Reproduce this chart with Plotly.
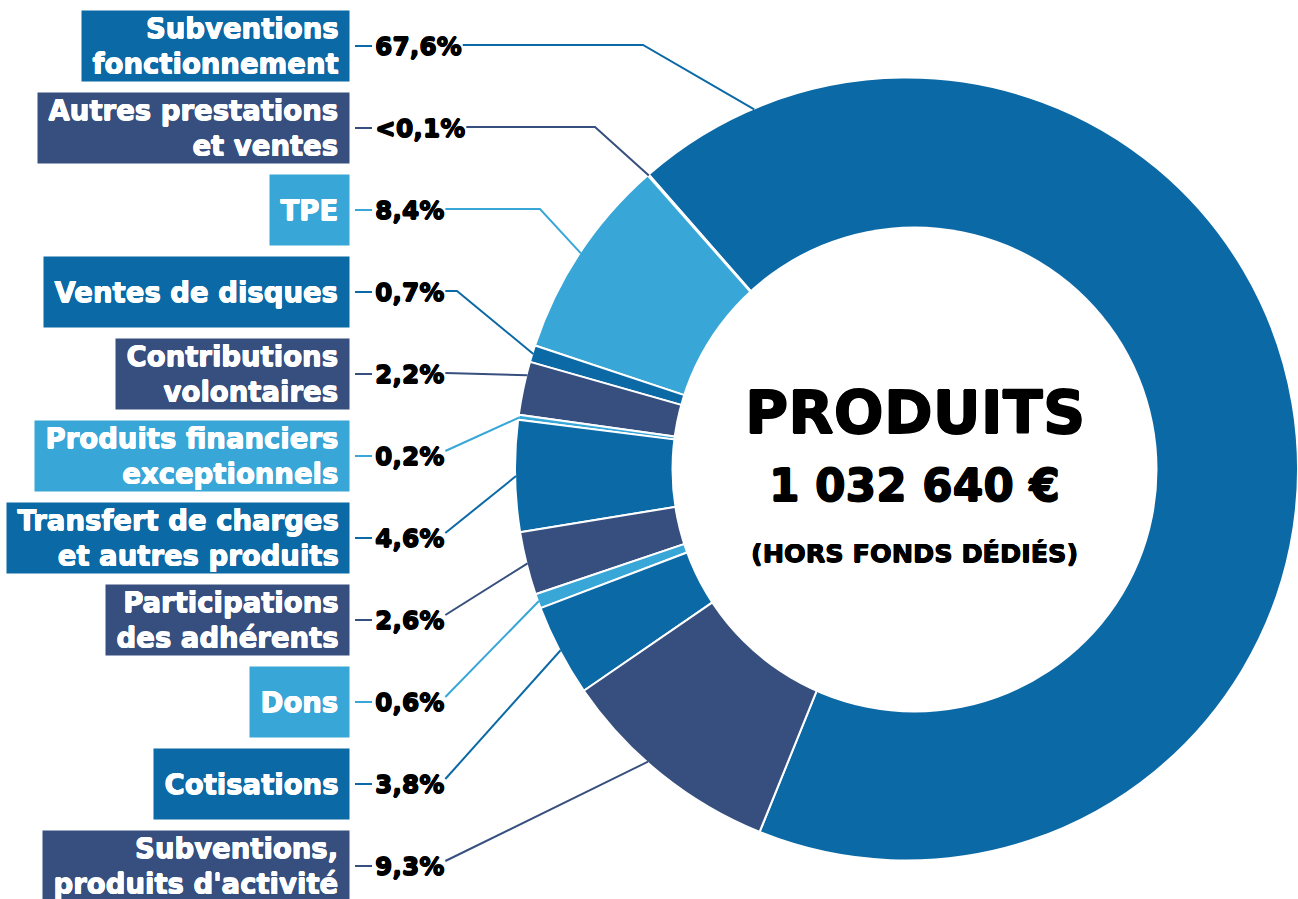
import math
import plotly.graph_objects as go

# ---- data -------------------------------------------------------------
CATEGORIES = [
    "Subventions<br>fonctionnement",
    "Autres prestations<br>et ventes",
    "TPE",
    "Ventes de disques",
    "Contributions<br>volontaires",
    "Produits financiers<br>exceptionnels",
    "Transfert de charges<br>et autres produits",
    "Participations<br>des adhérents",
    "Dons",
    "Cotisations",
    "Subventions,<br>produits d'activité",
]
SHARES = [67.6, 0.05, 8.4, 0.7, 2.2, 0.2, 4.6, 2.6, 0.6, 3.8, 9.3]

TITLE = "PRODUITS"
TOTAL = "1 032 640 €"
SUBTITLE = "(HORS FONDS DÉDIÉS)"

# ---- style ------------------------------------------------------------
DARK, NAVY, LIGHT = "#0b69a6", "#374f7e", "#38a7d8"
COLORS = [DARK, NAVY, LIGHT, DARK, NAVY, LIGHT, DARK, NAVY, LIGHT, DARK, NAVY]

W, H = 1298, 899
FONT = "DejaVu Sans"


def heavy(color, d=0.6):
    """text-shadow that thickens glyph strokes a little"""
    return (f"{d}px 0 0 {color}, -{d}px 0 0 {color}, "
            f"0 {d}px 0 {color}, 0 -{d}px 0 {color}")


# donut geometry (pixels, y measured from the top)
CX, CY, R = 906.5, 469.0, 391.5
HOLE = 0.58
# white centre disc, set slightly right of the ring centre
DISC_X, DISC_Y, DISC_R = 914.5, 469.5, 243.0
START_ANGLE = -41.2          # first slice boundary, degrees clockwise from 12 o'clock

# label column
BOX_RIGHT = 350
BOX_FONT = 27.5
ROW_TOP, ROW_STEP = 46, 82
DASH_X0, DASH_X1 = 355, 372
PCT_X = 373
PCT_SIZE = 25

# where along each slice the leader touches (0 = upper boundary, 1 = lower)
ANCHOR_FRAC = [0.075, 0.5, 0.5, 0.5, 0.25, 0.5, 0.5, 0.5, 0.5, 0.5, 0.42]
# horizontal run before the leader bends (None = straight to the slice)
ELBOW_X = [643, 595, 540, 457, None, None, None, None, None, None, None]


def px(x, y):
    return x / W, 1 - y / H


def pct_text(v):
    if v < 0.1:
        return "<0,1%"
    return f"{v:.1f}".replace(".", ",") + "%"


# rough advance widths (em) of DejaVu Sans Bold for the percentage strings
ADV = {"0": 0.696, "1": 0.696, "2": 0.696, "3": 0.696, "4": 0.696, "5": 0.696,
       "6": 0.696, "7": 0.696, "8": 0.696, "9": 0.696, ",": 0.38, "%": 1.002, "<": 0.838}


def text_width(s, size):
    return sum(ADV.get(c, 0.7) for c in s) * size


# ---- slice angles -----------------------------------------------------
total = sum(SHARES)
spans = [v / total * 360 for v in SHARES]
tip_angles = []
boundary = START_ANGLE
for k, span in enumerate(spans):
    if k == 0:
        tip_angles.append(START_ANGLE + ANCHOR_FRAC[k] * span)
    else:
        tip_angles.append(boundary - ANCHOR_FRAC[k] * span)
        boundary -= span

fig = go.Figure()

fig.add_trace(go.Pie(
    labels=[c.replace("<br>", " ") for c in CATEGORIES],
    values=SHARES,
    sort=False,
    direction="counterclockwise",
    rotation=START_ANGLE,
    hole=HOLE,
    marker=dict(colors=COLORS, line=dict(color="white", width=2)),
    textinfo="none",
    hovertemplate="%{label}<br>%{percent}<extra></extra>",
    showlegend=False,
    domain=dict(
        x=[(CX - R) / W, min(1.0, (CX + R) / W)],
        y=[(H - CY - R) / H, (H - CY + R) / H],
    ),
))

annotations = []
shapes = []

# centre disc
dx0, dy0 = px(DISC_X - DISC_R, DISC_Y + DISC_R)
dx1, dy1 = px(DISC_X + DISC_R, DISC_Y - DISC_R)
shapes.append(dict(type="circle", xref="paper", yref="paper", layer="above",
                   x0=dx0, y0=dy0, x1=dx1, y1=dy1,
                   fillcolor="white", line=dict(width=0)))

for i, (cat, val, col) in enumerate(zip(CATEGORIES, SHARES, COLORS)):
    y = ROW_TOP + i * ROW_STEP
    lines = cat.split("<br>")
    boxed = "<br>".join("\u00a0" + ln + "\u00a0" for ln in lines)

    bx, by = px(BOX_RIGHT, y)
    annotations.append(dict(
        x=bx, y=by, xref="paper", yref="paper",
        xanchor="right", yanchor="middle",
        text=boxed, showarrow=False, align="right", valign="middle",
        height=68, borderpad=1, bgcolor=col,
        font=dict(family=FONT, size=BOX_FONT, color="white", weight="bold",
                  shadow=heavy("white", 0.5)),
    ))

    label = pct_text(val)
    lx, ly = px(PCT_X, y)
    annotations.append(dict(
        x=lx, y=ly, xref="paper", yref="paper",
        xanchor="left", yanchor="middle",
        text=label, showarrow=False,
        font=dict(family=FONT, size=PCT_SIZE, color="black", weight="bold",
                  shadow=heavy("black", 0.6)),
    ))

    # short tick between box and percentage
    x0, y0 = px(DASH_X0, y)
    x1, _ = px(DASH_X1, y)
    shapes.append(dict(type="line", xref="paper", yref="paper",
                       x0=x0, y0=y0, x1=x1, y1=y0,
                       line=dict(color=col, width=2)))

    # leader to the slice
    th = math.radians(tip_angles[i])
    tx = CX + (R - 1) * math.sin(th)
    ty = CY - (R - 1) * math.cos(th)
    sx = PCT_X + text_width(label, PCT_SIZE) + 3
    elbow = ELBOW_X[i]
    if elbow is not None:
        sy = y - 1
        pts = [(sx, sy), (elbow, sy), (tx, ty)]
    else:
        sy = y - 1 if abs(ty - y) < 15 else y - 5
        pts = [(sx, sy), (tx, ty)]
    path = ""
    for j, (xx, yy) in enumerate(pts):
        ux, uy = px(xx, yy)
        path += ("M" if j == 0 else " L") + f"{ux:.5f},{uy:.5f}"
    shapes.append(dict(type="path", xref="paper", yref="paper", path=path,
                       line=dict(color=col, width=2)))

# centre text
for txt, yy, size in [(TITLE, 412, 59), (TOTAL, 486, 44), (SUBTITLE, 553, 25.5)]:
    ax, ay = px(914.5, yy)
    annotations.append(dict(
        x=ax, y=ay, xref="paper", yref="paper",
        xanchor="center", yanchor="middle",
        text=txt, showarrow=False,
        font=dict(family=FONT, size=size, color="black", weight="bold",
                  shadow=heavy("black", 0.7 if size > 40 else 0.5)),
    ))

fig.update_layout(
    width=W, height=H, autosize=False,
    margin=dict(l=0, r=0, t=0, b=0),
    paper_bgcolor="white", plot_bgcolor="white",
    annotations=annotations, shapes=shapes,
)

fig.write_html("out.html")
